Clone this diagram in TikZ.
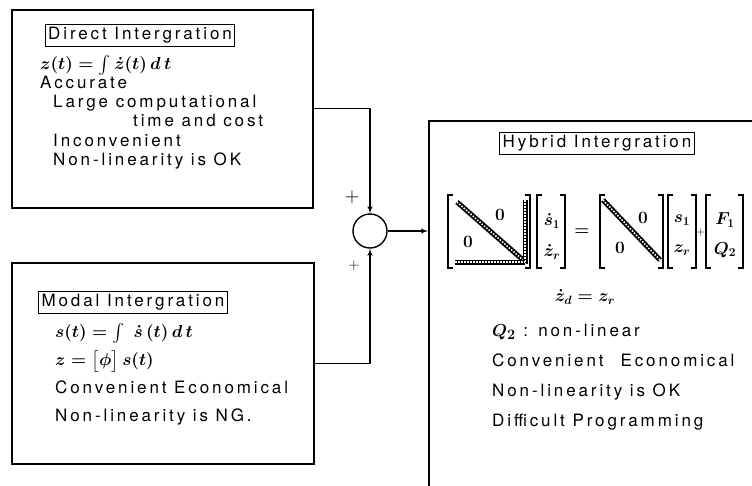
\documentclass[tikz,border=0pt]{standalone}
\usepackage{amsmath,amssymb,bm}
\usepackage{fontspec}
\setmainfont{TeX Gyre Heros}
\newfontfamily\scanfont{TeX Gyre Heros}[LetterSpace=17]
\usetikzlibrary{arrows,positioning,calc}
\tikzset{
  box/.style={draw,line width=1.5pt,anchor=north west,inner sep=0pt},
  ttl/.style={draw,line width=0.8pt,font=\scanfont\fontsize{17}{18}\selectfont,
              inner sep=3pt,minimum height=21pt},
  txt/.style={anchor=west,inner sep=0pt,font=\scanfont\fontsize{17}{18}\selectfont,
              text height=11pt,text depth=2pt},
  mth/.style={txt,font=\fontsize{18}{18}\selectfont\boldmath},
  ent/.style={inner sep=0pt,font=\fontsize{18}{18}\selectfont\boldmath},
  sgn/.style={inner sep=0pt,font=\fontsize{22}{22}\selectfont},
  arr/.style={-latex',line width=1.4pt},
  brk/.style={line width=1.2pt},
  bar/.style={line width=5pt,
              postaction={draw=white,line width=1.6pt,dash pattern=on 1.5pt off 1.5pt}},
}
% bracket pair: left x, right x, top y, bottom y
\newcommand{\mbrk}[4]{%
  \draw[brk] (#1+5,#3) -- (#1,#3) -- (#1,#4) -- (#1+5,#4);
  \draw[brk] (#2-5,#3) -- (#2,#3) -- (#2,#4) -- (#2-5,#4);}

\begin{document}
\begin{tikzpicture}[x=1pt,y=-1pt]
\fill[white] (0,0) rectangle (752,485);
\clip (0,0) rectangle (752,485);
% the three blocks and the summing point
\node[box,minimum width=301pt,minimum height=198pt] (direct) at (11,9) {};
\node[box,minimum width=302pt,minimum height=201pt] (modal) at (11,262) {};
\node[box,minimum width=360pt,minimum height=400pt] (hybrid) at (428,120) {};
\node[draw,circle,line width=1.4pt,minimum size=34pt,inner sep=0pt] (sum) at (370,231) {};
\node[ttl] (dtitle) at (140,35) {Direct Intergration};
\node[ttl] (mtitle) at (133,302) {Modal Intergration};
\node[ttl] (htitle) at (597,143) {Hybrid Intergration};
% direct integration
\node[mth] (d1) at (40,65) {$z(t)=\textstyle\int \dot z(t)\,d\,t$};
\node[txt] (d2) at (40,84) {Accurate};
\node[txt] (d3) at (53,103) {Large computational};
\node[txt] (d4) at (133,122) {time and cost};
\node[txt] (d5) at (53,142) {Inconvenient};
\node[txt] (d6) at (53,161) {Non-linearity is OK};
% modal integration
\node[mth] (m1) at (55,333) {$s(t)=\textstyle\int\;\dot s\,(t)\,d\,t$};
\node[mth] (m2) at (55,361) {$z=\bigl[\phi\bigr]\,s(t)$};
\node[txt] (m3) at (55,389) {Convenient Economical};
\node[txt] (m4) at (55,417) {Non-linearity is NG.};
% hybrid integration: matrix equation
\draw[bar] (457,202) -- (523,260);
\draw[bar] (525,200) -- (525,264);
\draw[bar] (455,262) -- (525,262);
\draw[bar] (603,200) -- (660,260);
\mbrk{448}{530}{195}{268}
\mbrk{537}{565}{195}{268}
\mbrk{600}{663}{195}{268}
\mbrk{668}{696}{195}{268}
\mbrk{706}{743}{195}{268}
\node[ent] (a12) at (500,215) {$0$};
\node[ent] (a21) at (468,242) {$0$};
\node[ent] (v1) at (552,221) {$\dot s_1$};
\node[ent] (v2) at (552,252) {$\dot z_r$};
\node[ent] (eqs) at (582,232) {$=$};
\node[ent] (b12) at (643,218) {$0$};
\node[ent] (b21) at (620,248) {$0$};
\node[ent] (w1) at (682,220) {$s_1$};
\node[ent] (w2) at (682,250) {$z_r$};
\node[inner sep=0pt,font=\fontsize{12}{12}\selectfont] (pls) at (701,232) {$+$};
\node[ent] (f1) at (725,220) {$F_1$};
\node[ent] (f2) at (725,250) {$Q_2$};
\node[ent] (h1) at (585,297) {$\dot z_d = z_r$};
\node[txt] (h2) at (492,332) {{\fontsize{19}{19}\selectfont\boldmath$Q_2$} : non-linear};
\node[txt] (h3) at (492,362) {Convenient\quad Economical};
\node[txt] (h4) at (492,392) {Non-linearity is OK};
\node[txt] (h5) at (492,422) {Difficult Programming};
% signs and connectors
\node[sgn] (pup) at (352,197) {$+$};
\node[sgn,scale=0.75] (pdn) at (354,266) {$+$};
\draw[arr] (direct.east) -| (sum.north);
\draw[arr] (modal.east) -| (sum.south);
\draw[arr] (sum.east) -- (sum.east -| hybrid.west);
\end{tikzpicture}
\end{document}
